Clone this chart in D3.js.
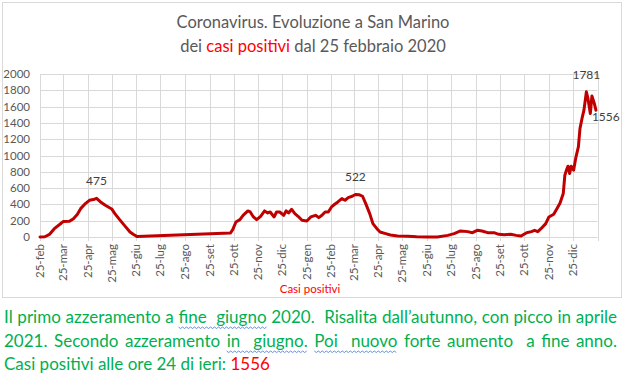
<!DOCTYPE html>
<html>
<head>
<meta charset="utf-8">
<script src="https://cdn.jsdelivr.net/npm/d3@7"></script>
<style>
	body { margin: 0; background: #fff; }
	svg { display: block; font-family: Lato, "Open Sans", sans-serif; }
</style>
</head>
<body>
<div id="vis"></div>
<script>

// casi positivi attivi
var dates = [
	"2020-02-25","2020-03-02","2020-03-08","2020-03-14","2020-03-23","2020-03-25","2020-04-02","2020-04-07","2020-04-12","2020-04-16",
	"2020-04-22","2020-04-27","2020-05-02","2020-05-06","2020-05-11","2020-05-17","2020-05-25","2020-05-29","2020-06-04","2020-06-10",
	"2020-06-17","2020-06-21","2020-06-26",
	"2020-10-21","2020-10-24","2020-10-28","2020-11-02","2020-11-06","2020-11-12","2020-11-15","2020-11-19","2020-11-23","2020-11-28",
	"2020-12-03","2020-12-07","2020-12-10","2020-12-15","2020-12-18","2020-12-22","2020-12-27","2020-12-30","2021-01-02","2021-01-06",
	"2021-01-10","2021-01-14","2021-01-19","2021-01-25","2021-01-30","2021-02-05","2021-02-09","2021-02-13","2021-02-17","2021-02-21",
	"2021-02-25","2021-03-01","2021-03-05","2021-03-10","2021-03-14","2021-03-18","2021-03-23","2021-03-27","2021-04-01","2021-04-05",
	"2021-04-09","2021-04-14","2021-04-18","2021-04-23","2021-04-27","2021-05-04","2021-05-10","2021-05-19","2021-06-01","2021-06-12",
	"2021-06-25","2021-07-08","2021-07-21","2021-07-29","2021-08-06","2021-08-15","2021-08-21","2021-08-27","2021-09-02","2021-09-09",
	"2021-09-17","2021-09-23","2021-09-30","2021-10-08","2021-10-15","2021-10-21",
	"2021-10-28","2021-11-03","2021-11-07","2021-11-11","2021-11-15","2021-11-21","2021-11-25","2021-12-01","2021-12-05","2021-12-09",
	"2021-12-13","2021-12-15","2021-12-17","2021-12-19","2021-12-21","2021-12-23","2021-12-26","2021-12-29","2022-01-01","2022-01-03",
	"2022-01-06","2022-01-08","2022-01-11","2022-01-13","2022-01-16","2022-01-18","2022-01-21","2022-01-23"
];
var positivi = [
	0,3,33,102,172,189,193,225,279,348,
	410,450,459,475,430,389,344,287,213,143,
	61,33,5,
	49,90,184,213,266,320,307,246,213,254,
	320,295,307,246,307,307,266,320,295,340,
	287,254,205,197,246,266,238,266,307,307,
	369,402,430,471,451,484,500,522,518,500,
	410,287,164,102,61,41,25,12,8,2,
	0,1,20,41,74,66,53,82,74,53,
	53,33,29,33,20,12,
	53,66,82,66,102,164,246,279,348,418,
	533,758,820,869,779,869,820,984,1107,1332,
	1475,1557,1781,1700,1516,1730,1640,1556
];
// etichette sui punti (picchi e ultimo valore)
var callouts = ["2020-05-06", "2021-03-27", "2022-01-11", "2022-01-23"];

var monthNames = ["gen","feb","mar","apr","mag","giu","lug","ago","set","ott","nov","dic"];
var yTicks = [0,200,400,600,800,1000,1200,1400,1600,1800,2000];

var titleLine1 = "Coronavirus. Evoluzione a San Marino";
var titleLine2 = ["dei ", "casi positivi", " dal 25 febbraio 2020"];
var legendText = "Casi positivi";
var notes = [
	"Il primo azzeramento a fine  giugno 2020.  Risalita dall\u2019autunno, con picco in aprile",
	"2021. Secondo azzeramento in  giugno. Poi  nuovo forte aumento  a fine anno.",
	"Casi positivi alle ore 24 di ieri: "
];
var lastValue = "1556";
// parole sottolineate dal correttore (riga, testo)
var squiggles = [[0, "fine  giugno"], [1, "in  giugno."], [1, "Poi  nuovo"]];

var W = 625, H = 375;
var red = "#C00000";
var grid = "#d9d9d9";
var grey = "#595959";
var green = "#00B050";

var parse = d3.timeParse("%Y-%m-%d");
var data = dates.map(function (d, i) {
	return {date: parse(d), value: positivi[i]};
});

var svg = d3.select("#vis").append("svg")
	.attr("width", W)
	.attr("height", H);

svg.append("rect")
	.attr("x", 2.5).attr("y", 2.5)
	.attr("width", 619).attr("height", 295)
	.attr("fill", "#fff")
	.attr("stroke", grid);

var x = d3.scaleTime()
	.domain([parse("2020-02-25"), parse("2022-01-25")])
	.range([40, 597.5]);
var y = d3.scaleLinear()
	.domain([0, 2000])
	.range([237, 74]);

// tick ogni 25 del mese
var xTicks = [];
var t = parse("2020-02-25");
while (t <= parse("2021-12-25")) {
	xTicks.push(t);
	t = new Date(t.getFullYear(), t.getMonth() + 1, 25);
}

var g = svg.append("g");

g.selectAll(".hgrid")
	.data(yTicks)
	.enter().append("line")
	.attr("x1", 40).attr("x2", 597.5)
	.attr("y1", function (d) { return Math.round(y(d)) + 0.5; })
	.attr("y2", function (d) { return Math.round(y(d)) + 0.5; })
	.attr("stroke", grid);

g.selectAll(".vgrid")
	.data(xTicks.concat([x.domain()[1]]))
	.enter().append("line")
	.attr("x1", function (d) { return Math.round(x(d)) + 0.5; })
	.attr("x2", function (d) { return Math.round(x(d)) + 0.5; })
	.attr("y1", 74).attr("y2", 241)
	.attr("stroke", grid);

g.selectAll(".ylab")
	.data(yTicks)
	.enter().append("text")
	.attr("x", 30)
	.attr("y", function (d) { return y(d) + 4; })
	.attr("text-anchor", "end")
	.attr("font-size", 11.5)
	.attr("fill", grey)
	.text(function (d) { return d; });

g.selectAll(".xlab")
	.data(xTicks)
	.enter().append("text")
	.attr("transform", function (d) { return "translate(" + (x(d) + 4) + ",244) rotate(-90)"; })
	.attr("text-anchor", "end")
	.attr("font-size", 11.5)
	.attr("fill", grey)
	.text(function (d) { return "25-" + monthNames[d.getMonth()]; });

var line = d3.line()
	.x(function (d) { return x(d.date); })
	.y(function (d) { return y(d.value); });

svg.append("path")
	.datum(data)
	.attr("d", line)
	.attr("fill", "none")
	.attr("stroke", red)
	.attr("stroke-width", 3)
	.attr("stroke-linejoin", "round")
	.attr("stroke-linecap", "round");

// etichette dati
var last = data[data.length - 1];
callouts.forEach(function (c) {
	var p = data.filter(function (d) { return +d.date == +parse(c); })[0];
	var isLast = p === last;
	svg.append("text")
		.attr("x", isLast ? x(p.date) - 4 : x(p.date))
		.attr("y", isLast ? y(p.value) + 11 : y(p.value) - 13)
		.attr("text-anchor", isLast ? "start" : "middle")
		.attr("font-size", 12)
		.attr("fill", "#404040")
		.text(p.value);
});

// titolo
svg.append("text")
	.attr("x", 313).attr("y", 28)
	.attr("text-anchor", "middle")
	.attr("font-size", 16.5)
	.attr("fill", grey)
	.text(titleLine1);

var t2 = svg.append("text")
	.attr("x", 313).attr("y", 52)
	.attr("text-anchor", "middle")
	.attr("font-size", 16.5)
	.attr("fill", grey);
titleLine2.forEach(function (s, i) {
	t2.append("tspan").attr("fill", i == 1 ? "#FF0000" : grey).text(s);
});

// legenda
svg.append("text")
	.attr("x", 310).attr("y", 293)
	.attr("text-anchor", "middle")
	.attr("font-size", 11.5)
	.attr("fill", "#FF0000")
	.text(legendText);

// testo sotto il grafico, giustificato
var noteY = [323, 347, 370];
var left = 4, right = 617;
var noteNodes = [];
notes.forEach(function (s, i) {
	var tx = svg.append("text")
		.attr("x", left).attr("y", noteY[i])
		.attr("font-size", 17)
		.attr("fill", green)
		.attr("xml:space", "preserve")
		.style("white-space", "pre")
		.text(s);
	if (i == 2) {
		tx.append("tspan").attr("fill", "#FF0000").text(lastValue);
	} else {
		var len = tx.node().getComputedTextLength();
		var spaces = s.split(" ").length - 1;
		if (len < right - left) {
			tx.attr("word-spacing", (right - left - len) / spaces);
		} else {
			tx.attr("textLength", right - left).attr("lengthAdjust", "spacingAndGlyphs");
		}
	}
	noteNodes.push(tx);
});

// sottolineature ondulate del correttore
squiggles.forEach(function (sq) {
	var node = noteNodes[sq[0]].node();
	var s = notes[sq[0]];
	var a = s.indexOf(sq[1]);
	var b = a + sq[1].length - 1;
	var x0 = node.getStartPositionOfChar(a).x;
	var x1 = node.getEndPositionOfChar(b).x;
	var yy = noteY[sq[0]] + 4;
	var d = "M" + x0 + "," + yy;
	var k = 0;
	for (var xx = x0 + 2; xx <= x1; xx += 2) {
		k++;
		d += "L" + xx + "," + (yy + (k % 2 ? 1.5 : 0));
	}
	svg.append("path")
		.attr("d", d)
		.attr("fill", "none")
		.attr("stroke", "#4472C4")
		.attr("stroke-width", 0.8);
});

</script>
</body>
</html>
